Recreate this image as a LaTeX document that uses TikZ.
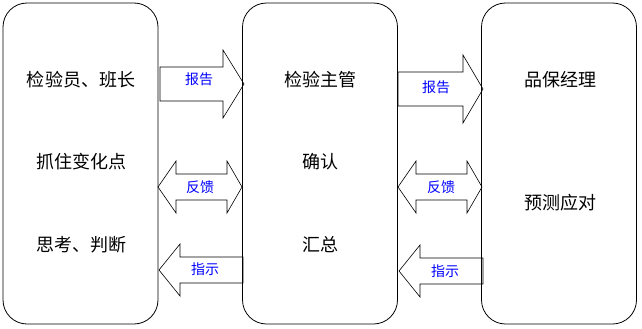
\documentclass[tikz,border=0pt]{standalone}
\usepackage{fontspec}
\usepackage{tikz}
\newfontfamily\cjk{Noto Sans CJK SC}
\definecolor{QCBlue}{RGB}{0,0,255}
\tikzset{
  stagebox/.style={draw=black,line width=.8pt,rounded corners=24pt,minimum width=155pt,minimum height=321pt,inner sep=0pt},
  stagetext/.style={font=\cjk\fontsize{18}{20}\selectfont,inner sep=0pt},
  blockarrow/.style={draw=black,line width=.6pt,line join=miter},
  arrowtext/.style={font=\cjk\fontsize{14}{16}\selectfont,text=QCBlue,inner sep=0pt}
}

\begin{document}
\begin{tikzpicture}[x=1pt,y=-1pt]
\path[use as bounding box] (0,0) rectangle (642,329);
\fill[white] (0,0) rectangle (642,329);
% three stages
\node[stagebox] (inspector) at (80.5,163.5) {};
\node[stagebox] (supervisor) at (320,163.5) {};
\node[stagebox] (manager) at (559,163.5) {};
\node[stagetext] (inspector1) at (81,80) {检验员、班长};
\node[stagetext] (inspector2) at (81,162) {抓住变化点};
\node[stagetext] (inspector3) at (81,245) {思考、判断};
\node[stagetext] (supervisor1) at (320,80) {检验主管};
\node[stagetext] (supervisor2) at (320,162) {确认};
\node[stagetext] (supervisor3) at (320,245) {汇总};
\node[stagetext] (manager1) at (560,80) {品保经理};
\node[stagetext] (manager2) at (560,203) {预测应对};
% block arrows, left gap
\draw[blockarrow] (160,67) -- (223,67) -- (223,50) -- (244,84) -- (223,118) -- (223,101) -- (160,101) -- cycle;
\node[arrowtext] (report1) at (199,79) {报告};
\draw[blockarrow] (158,187) -- (176,161) -- (176,174) -- (227,174) -- (227,161) -- (242,187) -- (227,213) -- (227,200) -- (176,200) -- (176,213) -- cycle;
\node[arrowtext] (feedback1) at (200,187) {反馈};
\draw[blockarrow] (159,270) -- (180,244) -- (180,257) -- (243,257) -- (243,283) -- (180,283) -- (180,296) -- cycle;
\node[arrowtext] (order1) at (205,269) {指示};
% block arrows, right gap
\draw[blockarrow] (398,72) -- (463,72) -- (463,55) -- (483,89) -- (463,123) -- (463,106) -- (398,106) -- cycle;
\node[arrowtext] (report2) at (436,87) {报告};
\draw[blockarrow] (398,187) -- (416,161) -- (416,174) -- (467,174) -- (467,161) -- (482,187) -- (467,213) -- (467,200) -- (416,200) -- (416,213) -- cycle;
\node[arrowtext] (feedback2) at (441,187) {反馈};
\draw[blockarrow] (399,271) -- (420,245) -- (420,258) -- (483,258) -- (483,284) -- (420,284) -- (420,297) -- cycle;
\node[arrowtext] (order2) at (445,271) {指示};
\end{tikzpicture}
\end{document}
